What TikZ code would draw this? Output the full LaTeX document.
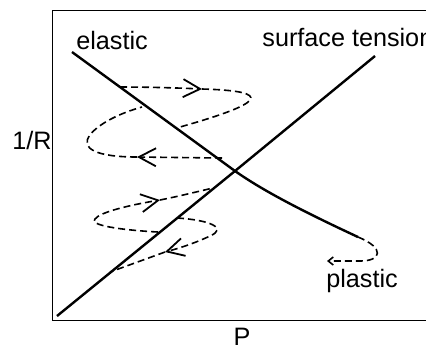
\documentclass[tikz,border=0pt]{standalone}
\usepackage{fontspec}
\setmainfont{Liberation Sans}
\usetikzlibrary{arrows.meta, positioning, calc}

\tikzset{
    frame/.style={line width=0.5pt},
    branch/.style={line width=1.2pt},
    spiral/.style={line width=0.8pt, dash pattern=on 3.5pt off 2pt},
    bigtip/.style={-{Straight Barb[length=8.5pt, width=9pt, line width=0.9pt]}},
    smalltip/.style={-{Straight Barb[length=2.5pt, width=4pt]}},
    lbl/.style={inner sep=0pt, font=\fontsize{12.6}{15}\selectfont}
}

\begin{document}
\begin{tikzpicture}[x=0.5pt, y=-0.5pt]
    \useasboundingbox (0,0) rectangle (426,350);

    % axes box, open on the right
    \draw[frame] (426,10) -- (52,10) -- (52,320) -- (426,320);
    \node[lbl] (ylbl) at (32,140) {1/R};
    \node[lbl] (xlbl) at (242,337) {P};

    % the two branches
    \coordinate (cross) at (235,171);
    \draw[branch] (72,52) -- (cross) .. controls (262,190) and (300,210) .. (358,237) coordinate (eend);
    \draw[branch] (57,316) -- (cross) -- (375,56);

    \node[lbl] (elasticlbl) at (112,40) {elastic};
    \node[lbl, anchor=west] (tensionlbl) at (262,37) {surface tension};
    \node[lbl] (plasticlbl) at (362,281) {plastic};

    % upper spiral round the elastic branch
    \draw[spiral, bigtip] (120,87) .. controls (150,87) and (180,88) .. (202,89);
    \draw[spiral] (202,89) .. controls (275,91) and (265,103) .. (180,127);
    \draw[spiral, bigtip] (222,158) -- (137,157);
    \draw[spiral] (137,157) .. controls (95,157) and (80,148) .. (90,135)
        .. controls (98,124) and (120,113) .. (142,107);

    % lower spiral round the surface tension branch
    \draw[spiral, bigtip] (158,232) .. controls (120,230) and (88,225) .. (95,219)
        .. controls (100,212) and (130,205) .. (160,200);
    \draw[spiral] (160,200) .. controls (180,196) and (200,191) .. (213,188);
    \draw[spiral, bigtip] (177,218) .. controls (210,220) and (228,228) .. (210,236)
        .. controls (195,243) and (180,248) .. (165,252);
    \draw[spiral] (165,252) -- (110,272);

    % plastic end
    \draw[spiral, smalltip] (eend) .. controls (385,248) and (382,261) .. (360,261) -- (327,261);
\end{tikzpicture}
\end{document}
